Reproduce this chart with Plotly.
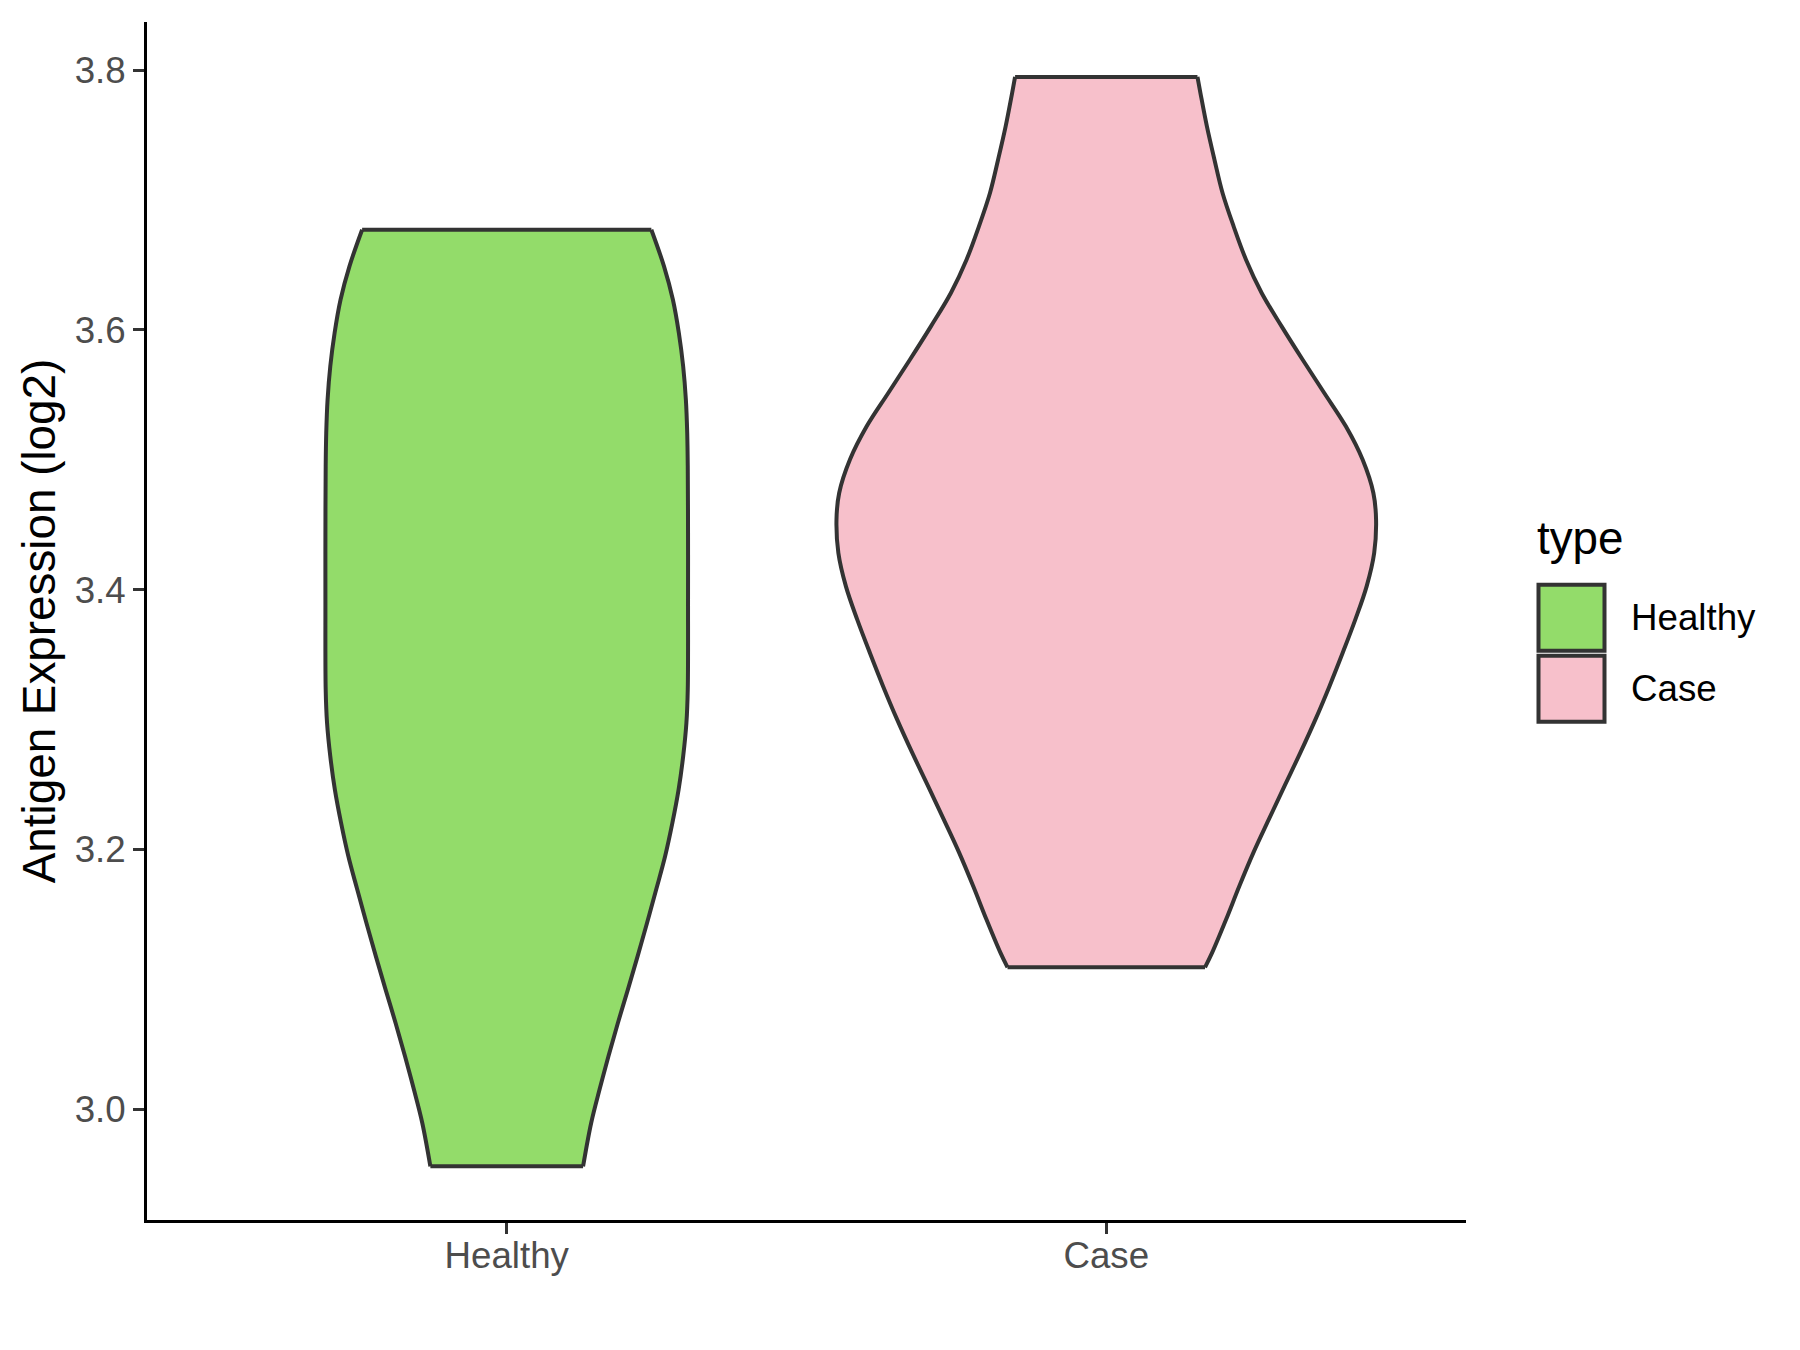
import plotly.graph_objects as go

# ---------------- data ----------------
categories = ["Healthy", "Case"]
fill_colors = ["#93DC6A", "#F7C0CB"]

# violin outlines: expression level (log2) and relative density (1 = widest violin)
healthy_y = [2.9561, 2.9895, 3.0152, 3.0408, 3.0665, 3.0922, 3.1178, 3.1435, 3.1692,
             3.1948, 3.2205, 3.2461, 3.2718, 3.2975, 3.3231, 3.3924, 3.4437, 3.4950,
             3.5207, 3.5464, 3.5720, 3.5977, 3.6233, 3.6490, 3.6772]
healthy_density = [0.283, 0.313, 0.344, 0.377, 0.412, 0.449, 0.485, 0.520, 0.554,
                   0.587, 0.614, 0.637, 0.654, 0.666, 0.671, 0.672, 0.672, 0.671,
                   0.669, 0.664, 0.654, 0.638, 0.616, 0.583, 0.536]

case_y = [3.1093, 3.1204, 3.1461, 3.1717, 3.1974, 3.2230, 3.2487, 3.2744, 3.3000,
          3.3256, 3.3513, 3.3770, 3.4026, 3.4283, 3.4540, 3.4745, 3.5002, 3.5258,
          3.5515, 3.5771, 3.6028, 3.6285, 3.6541, 3.6798, 3.7055, 3.7311, 3.7567,
          3.7824, 3.7948]
case_density = [0.366, 0.392, 0.444, 0.493, 0.545, 0.602, 0.660, 0.719, 0.775,
                0.827, 0.876, 0.923, 0.965, 0.993, 1.000, 0.990, 0.950, 0.888,
                0.808, 0.728, 0.650, 0.576, 0.518, 0.472, 0.431, 0.401, 0.373,
                0.349, 0.338]

y_ticks = [3.0, 3.2, 3.4, 3.6, 3.8]
y_title = "Antigen Expression (log2)"
legend_title = "type"

# ---------------- figure ----------------
MAX_HALF_WIDTH = 0.45   # ggplot default violin width 0.9
OUTLINE = "#333333"
FONT = "Liberation Sans, Arial, Helvetica, sans-serif"

OFF = 8                  # page body margin
W, H = 1800, 1350
PL, PR, PT, PB = 147, 1466, 22, 1220.5
ML, MT = PL - OFF, PT - OFF
MR = W - (PR - OFF)
MB = H - (PB - OFF)

fig = go.Figure()

profiles = [(healthy_y, healthy_density), (case_y, case_density)]
for i, (cat, (ys, ds)) in enumerate(zip(categories, profiles)):
    center = i + 1
    right_x = [center + d * MAX_HALF_WIDTH for d in ds]
    left_x = [center - d * MAX_HALF_WIDTH for d in ds]
    ys = list(ys)
    # filled body
    fig.add_trace(go.Scatter(
        x=right_x + left_x[::-1], y=ys + ys[::-1], mode="lines", fill="toself",
        fillcolor=fill_colors[i], line=dict(width=0, shape="linear"),
        name=cat, showlegend=False, hoverinfo="name",
    ))
    # smooth outline: sides as splines, flat trimmed ends as straight segments
    ox = right_x + [None] + left_x + [None] + [left_x[-1], right_x[-1]] + [None] + [left_x[0], right_x[0]]
    oy = ys + [None] + ys + [None] + [ys[-1], ys[-1]] + [None] + [ys[0], ys[0]]
    fig.add_trace(go.Scatter(
        x=ox, y=oy, mode="lines", connectgaps=False,
        line=dict(color=OUTLINE, width=4, shape="spline", smoothing=1),
        showlegend=False, hoverinfo="skip",
    ))


def px_x(p):
    return (p - PL) / (PR - PL)


def px_y(p):
    return (PB - p) / (PB - PT)


shapes = []
annotations = []
annotations.append(dict(text=legend_title, xref="paper", yref="paper",
                        x=px_x(1535), y=px_y(539), xanchor="left", yanchor="middle",
                        showarrow=False, font=dict(family=FONT, size=45.8, color="black")))
key_tops = [585, 656]
for i, cat in enumerate(categories):
    t = key_tops[i]
    shapes.append(dict(type="rect", xref="paper", yref="paper",
                       x0=px_x(1538.5), x1=px_x(1604.5), y0=px_y(t + 66), y1=px_y(t),
                       fillcolor=fill_colors[i], line=dict(color=OUTLINE, width=4)))
    annotations.append(dict(text=cat, xref="paper", yref="paper",
                            x=px_x(1629), y=px_y(t + 33), xanchor="left", yanchor="middle",
                            showarrow=False, font=dict(family=FONT, size=36.7, color="black")))

fig.update_layout(
    width=W, height=H,
    margin=dict(l=ML, r=MR, t=MT, b=MB),
    paper_bgcolor="white", plot_bgcolor="white",
    showlegend=False,
    font=dict(family=FONT),
    shapes=shapes, annotations=annotations,
    xaxis=dict(
        range=[0.4, 2.6], tickmode="array", tickvals=[1, 2], ticktext=categories,
        showgrid=False, zeroline=False,
        showline=True, linecolor="black", linewidth=3,
        ticks="outside", ticklen=11, tickwidth=3, tickcolor=OUTLINE,
        tickfont=dict(family=FONT, size=36.7, color="#4D4D4D"),
        ticklabelstandoff=-10,
    ),
    yaxis=dict(
        range=[2.9148, 3.8371], tickmode="array", tickvals=y_ticks,
        ticktext=[f"{v:.1f}" for v in y_ticks],
        showgrid=False, zeroline=False,
        showline=True, linecolor="black", linewidth=3,
        ticks="outside", ticklen=11, tickwidth=3, tickcolor=OUTLINE,
        tickfont=dict(family=FONT, size=36.7, color="#4D4D4D"),
        ticklabelstandoff=0,
        title=dict(text=y_title, font=dict(family=FONT, size=45.8, color="black"),
                   standoff=5),
    ),
)

fig.write_html("out.html")
